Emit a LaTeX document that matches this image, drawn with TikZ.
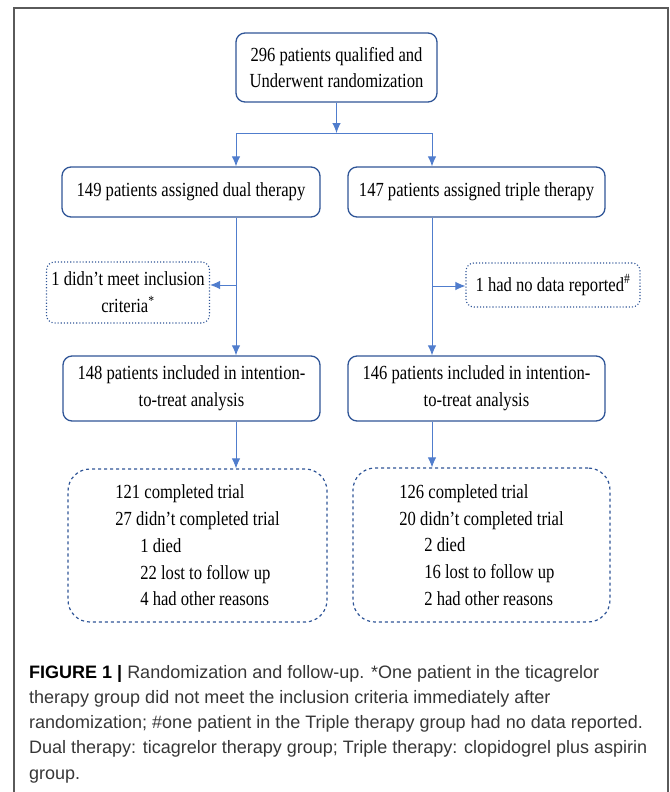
\documentclass[tikz,border=0pt]{standalone}
\usepackage{fontspec}
\setmainfont{Liberation Serif}[FakeStretch=0.83]
\newfontfamily\capfont{Liberation Sans}
\usetikzlibrary{arrows.meta}
\definecolor{boxblue}{RGB}{47,85,151}
\definecolor{arrowblue}{RGB}{80,125,205}
\definecolor{framegray}{RGB}{90,90,90}
\definecolor{captext}{RGB}{55,55,55}

\begin{document}
\begin{tikzpicture}[x=1pt, y=-1pt,
    font=\fontsize{20}{26.7}\selectfont,
    box/.style={draw=boxblue, line width=1.3pt, rounded corners=9pt, align=center, inner sep=0pt},
    exclbox/.style={draw=boxblue, line width=1.1pt, dotted, rounded corners=8pt, align=center, inner sep=0pt},
    resultbox/.style={draw=boxblue, line width=1.2pt, dashed, rounded corners=22pt, align=left, inner sep=0pt},
    arr/.style={draw=arrowblue, line width=0.9pt, -{Latex[length=10pt,width=8.5pt]}}]
                \useasboundingbox (0,0) rectangle (669,792);

                % Frame
                \draw[framegray, line width=1.2pt] (14,792) -- (14,8) -- (668,8) -- (668,792);

                % Randomization
                \node[box, minimum width=201pt, minimum height=69pt] (rand) at (336.5,67.5) {296 patients qualified and\\Underwent randomization};

                % Groups
                \node[box, minimum width=258pt, minimum height=50pt] (dual) at (191,192) {149 patients assigned dual therapy};
                \node[box, minimum width=257pt, minimum height=50pt] (triple) at (476.5,192) {147 patients assigned triple therapy};

                % Exclusions
                \node[exclbox, minimum width=163pt, minimum height=61pt] (excl1) at (128,292.5) {1 didn’t meet inclusion\\criteria\textsuperscript{*}};
                \node[exclbox, minimum width=174pt, minimum height=44pt] (excl2) at (553,285) {1 had no data reported\textsuperscript{\#}};

                % Intention-to-treat
                \node[box, minimum width=257pt, minimum height=65pt] (itt1) at (191.5,388.5) {148 patients included in intention-\\to-treat analysis};
                \node[box, minimum width=257pt, minimum height=65pt] (itt2) at (476.5,388.5) {146 patients included in intention-\\to-treat analysis};

                % Follow-up
                \node[resultbox, minimum width=259pt, minimum height=153pt] (res1) at (197.5,545.5) {121 completed trial\\27 didn’t completed trial\\\hspace*{25pt}1 died\\\hspace*{25pt}22 lost to follow up\\\hspace*{25pt}4 had other reasons};
                \node[resultbox, minimum width=257pt, minimum height=154pt] (res2) at (481.5,545) {126 completed trial\\20 didn’t completed trial\\\hspace*{25pt}2 died\\\hspace*{25pt}16 lost to follow up\\\hspace*{25pt}2 had other reasons};

                % Connectors
                \coordinate (split) at (336.5,133);
                \coordinate (lcol) at (236,0);
                \coordinate (rcol) at (432,0);
                \coordinate (lbranch) at (236,285);
                \coordinate (rbranch) at (432,286);
                \draw[arr] (rand) -- (split);
                \draw[arr] (split) -| (dual.north -| lcol);
                \draw[arr] (split) -| (triple.north -| rcol);
                \draw[arr] (dual.south -| lcol) -- (itt1.north -| lcol);
                \draw[arr] (lbranch) -- (lbranch -| excl1.east);
                \draw[arr] (triple.south -| rcol) -- (itt2.north -| rcol);
                \draw[arr] (rbranch) -- (rbranch -| excl2.west);
                \draw[arr] (itt1.south -| lcol) -- (res1.north -| lcol);
                \draw[arr] (itt2.south -| rcol) -- (res2.north -| rcol);

                % Caption
                \node[anchor=north west, align=left, inner sep=0pt, text=captext, font=\capfont\fontsize{18}{25.2}\selectfont] (caption) at (29,665) {\textcolor{black}{\bfseries FIGURE 1 |} Randomization and follow-up. *One patient in the ticagrelor\\therapy group did not meet the inclusion criteria immediately after\\randomization; \#one patient in the Triple therapy group had no data reported.\\Dual therapy: ticagrelor therapy group; Triple therapy: clopidogrel plus aspirin\\group.};
            \end{tikzpicture}
\end{document}
